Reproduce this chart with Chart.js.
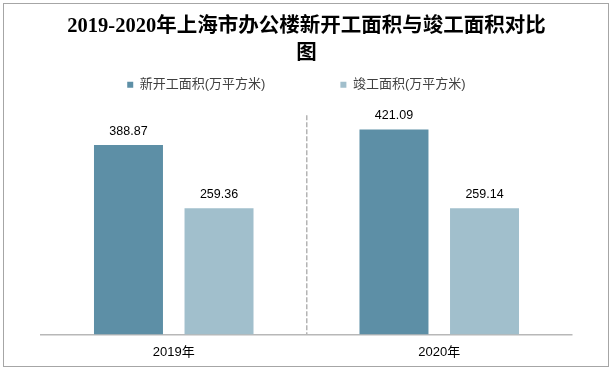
<!DOCTYPE html>
<html>
<head>
<meta charset="utf-8">
<script src="https://cdn.jsdelivr.net/npm/chart.js@4"></script>
<style>
  body { margin: 0; background: #fff; }
  #wrap { position: relative; width: 615px; height: 370px; }
  #frame {
    position: absolute; left: 3px; top: 3px; width: 604px; height: 362px;
    border: 1px solid #a6a6a6; pointer-events: none;
  }
</style>
</head>
<body>
<div id="wrap">
  <canvas id="chart" width="615" height="370"></canvas>
  <div id="frame"></div>
</div>
<script>
const years = ["2019年", "2020年"];
const newStarts = [388.87, 421.09];
const completions = [259.36, 259.14];
const seriesNames = ["新开工面积(万平方米)", "竣工面积(万平方米)"];

const sans = '"Liberation Sans", "Noto Sans CJK SC", sans-serif';

// value labels above each bar
const barLabels = {
  id: "barLabels",
  afterDatasetsDraw(chart) {
    const ctx = chart.ctx;
    ctx.save();
    ctx.font = "12.5px " + sans;
    ctx.fillStyle = "#000";
    ctx.textAlign = "center";
    ctx.textBaseline = "middle";
    chart.data.datasets.forEach((ds, i) => {
      chart.getDatasetMeta(i).data.forEach((bar, j) => {
        ctx.fillText(ds.data[j].toFixed(2), bar.x, bar.y - 14);
      });
    });
    ctx.restore();
  }
};

const ctx = document.getElementById("chart").getContext("2d");
new Chart(ctx, {
  type: "bar",
  data: {
    labels: years,
    datasets: [
      { label: seriesNames[0], data: newStarts, backgroundColor: "#5d8fa6" },
      { label: seriesNames[1], data: completions, backgroundColor: "#a1bfcc" }
    ]
  },
  options: {
    responsive: false,
    animation: false,
    categoryPercentage: 0.682,
    barPercentage: 0.762,
    layout: { padding: { left: 41, right: 43, top: 0, bottom: 0 } },
    plugins: {
      title: {
        display: true,
        text: ["2019-2020年上海市办公楼新开工面积与竣工面积对比", "图"],
        font: { family: '"Liberation Serif", "Noto Sans CJK SC", serif', size: 20.5, weight: "bold", lineHeight: 1.32 },
        color: "#000",
        padding: { top: 13.5, bottom: 0.7 }
      },
      subtitle: {
        display: true,
        text: "",
        weight: 500,
        font: { size: 1, lineHeight: 1 },
        padding: { top: 13, bottom: 0 }
      },
      legend: {
        labels: {
          boxWidth: 6,
          boxHeight: 6,
          padding: 10,
          color: "#404040",
          font: { family: sans, size: 13 },
          generateLabels(chart) {
            const items = Chart.defaults.plugins.legend.labels.generateLabels(chart);
            items[0].text += "\u3000\u3000\u3000\u3000\u3000";
            items[1].text += "\u3000  ";
            return items;
          }
        }
      },
      tooltip: { enabled: false }
    },
    scales: {
      x: {
        grid: {
          drawTicks: false,
          lineWidth: 1.5,
          color: (c) => (c.index === 1 ? "#b4b4b4" : "rgba(0,0,0,0)")
        },
        border: { display: true, color: "#b8b8b8", width: 1.5, dash: [5, 2] },
        ticks: { color: "#000", padding: 10, font: { family: sans, size: 13 } }
      },
      y: {
        display: false,
        min: 0,
        max: 450
      }
    }
  },
  plugins: [barLabels]
});
</script>
</body>
</html>
